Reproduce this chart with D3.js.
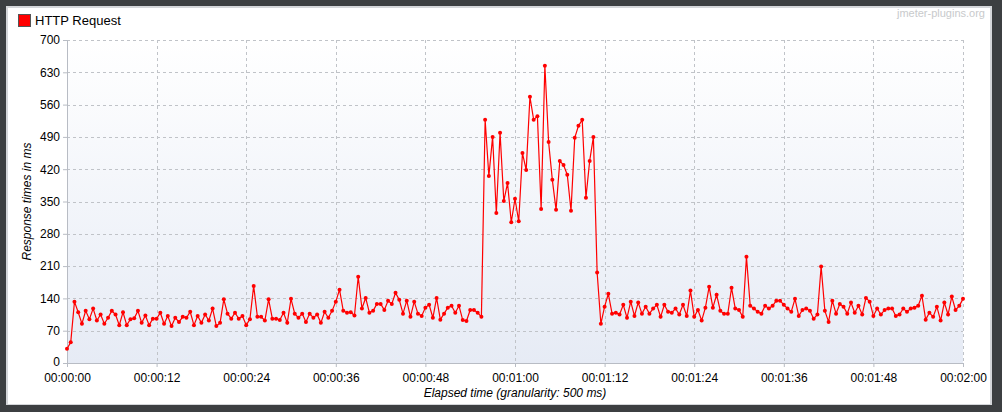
<!DOCTYPE html>
<html><head><meta charset="utf-8">
<script src="https://cdn.jsdelivr.net/npm/d3@7"></script>
<style>
html,body{margin:0;padding:0;background:#3c3f41;}
svg{display:block;}
text{font-family:"Liberation Sans",Arial,sans-serif;}
</style></head>
<body>
<svg id="c" width="1002" height="412"></svg>
<script>
const seriesName = "HTTP Request";
const granularityMs = 500;
const responseTimes = [
31,45,133,110,85,113,95,118,92,105,85,98,113,105,82,110,82,95,97,113,
87,103,82,96,96,109,85,102,80,98,89,100,98,111,82,102,87,105,92,118,
80,87,138,107,96,109,96,102,82,95,167,100,100,92,138,96,96,93,109,87,
139,107,98,107,89,107,98,105,87,111,98,113,133,159,113,109,110,103,187,118,
141,109,113,128,128,115,135,128,152,137,107,135,100,133,107,102,120,126,98,141,
94,107,120,124,109,124,93,91,115,115,109,100,527,405,490,325,499,351,390,305,
356,307,455,418,577,527,535,334,644,479,397,332,438,429,408,330,488,514,527,358,
438,490,196,85,122,150,107,109,105,126,98,133,102,131,107,122,107,118,126,100,
126,111,109,118,105,126,102,157,100,115,92,120,165,120,148,113,107,107,163,118,
115,100,230,124,118,111,107,124,118,124,135,135,126,118,111,139,102,115,118,113,
96,105,209,113,89,135,107,128,122,107,131,109,124,105,141,133,102,118,105,115,
118,118,102,105,118,111,118,120,124,146,94,109,100,122,92,131,105,144,115,124,139
];
const yTicks = [0,70,140,210,280,350,420,490,560,630,700];
const xTicksSec = [0,12,24,36,48,60,72,84,96,108,120];
const yLabel = "Response times in ms";
const xLabel = "Elapsed time (granularity: 500 ms)";
const watermark = "jmeter-plugins.org";

const data = responseTimes.map((v,i)=>({t:i*granularityMs/1000, v}));
const svg = d3.select("#c");
const W=1002,H=412;
const m={l:67,r:963,t:40,b:363};

// panel
svg.append("rect").attr("x",0).attr("y",0).attr("width",W).attr("height",H).attr("fill","#3c3f41");
svg.append("rect").attr("x",6).attr("y",6).attr("width",986).attr("height",399).attr("fill","#d4d6d9");
svg.append("rect").attr("x",8).attr("y",8).attr("width",982).attr("height",396).attr("fill","#ffffff");

const defs=svg.append("defs");
const g=defs.append("linearGradient").attr("id","bg").attr("x1",0).attr("y1",0).attr("x2",0).attr("y2",1);
g.append("stop").attr("offset","0").attr("stop-color","#ffffff");
g.append("stop").attr("offset","1").attr("stop-color","#e6ebf5");
svg.append("rect").attr("x",m.l).attr("y",m.t).attr("width",m.r-m.l).attr("height",m.b-m.t).attr("fill","url(#bg)");

const x=d3.scaleLinear().domain([0,120]).range([m.l,m.r]);
const y=d3.scaleLinear().domain([0,700]).range([m.b,m.t]);

// grid
const grid=svg.append("g").attr("stroke","#c0c3c8").attr("stroke-width",1).attr("stroke-dasharray","3,3").attr("shape-rendering","crispEdges");
yTicks.filter(d=>d>0).forEach(d=>grid.append("line").attr("x1",m.l).attr("x2",m.r).attr("y1",Math.round(y(d))+0.5).attr("y2",Math.round(y(d))+0.5));
xTicksSec.filter(d=>d>0).forEach(d=>grid.append("line").attr("y1",m.t).attr("y2",m.b).attr("x1",Math.round(x(d))+0.5).attr("x2",Math.round(x(d))+0.5));

const fmt = s=>{const h=Math.floor(s/3600),mm=Math.floor(s/60)%60,ss=s%60;return [h,mm,ss].map(n=>String(n).padStart(2,"0")).join(":");};

const ya=svg.append("g").attr("transform",`translate(${m.l},0)`).call(d3.axisLeft(y).tickValues(yTicks).tickSize(4).tickPadding(3));
const xa=svg.append("g").attr("transform",`translate(0,${m.b})`).call(d3.axisBottom(x).tickValues(xTicksSec).tickFormat(fmt).tickSize(4).tickPadding(6));
[ya,xa].forEach(a=>{a.selectAll("path").attr("stroke","#b8bcc4");a.selectAll("line").attr("stroke","#b8bcc4");a.selectAll("text").attr("fill","#000").attr("font-size","12px").attr("font-family","'Liberation Sans',Arial,sans-serif");});
ya.selectAll("text").filter(d=>d===0).attr("dy","0.2em");

// line
svg.append("path").datum(data).attr("fill","none").attr("stroke","#ff0000").attr("stroke-width",1.2)
  .attr("d",d3.line().x(d=>x(d.t)).y(d=>y(d.v)));
svg.append("g").selectAll("circle").data(data).join("circle")
  .attr("cx",d=>x(d.t)).attr("cy",d=>y(d.v)).attr("r",2).attr("fill","#ff0000");

// labels
svg.append("text").attr("transform",`translate(31,${(m.t+m.b)/2}) rotate(-90)`).attr("text-anchor","middle")
  .attr("font-size","12px").attr("font-style","italic").text(yLabel);
svg.append("text").attr("x",(m.l+m.r)/2).attr("y",397).attr("text-anchor","middle")
  .attr("font-size","12px").attr("font-style","italic").text(xLabel);

// legend
svg.append("rect").attr("x",18.5).attr("y",14.5).attr("width",12).attr("height",12).attr("fill","#ff0000").attr("stroke","#555").attr("stroke-width",1);
svg.append("text").attr("x",35).attr("y",25).attr("font-size","13px").attr("fill","#000").text(seriesName);
svg.append("text").attr("x",985).attr("y",17).attr("text-anchor","end").attr("font-size","11px").attr("fill","#c8cacc").text(watermark);
</script>
</body></html>
